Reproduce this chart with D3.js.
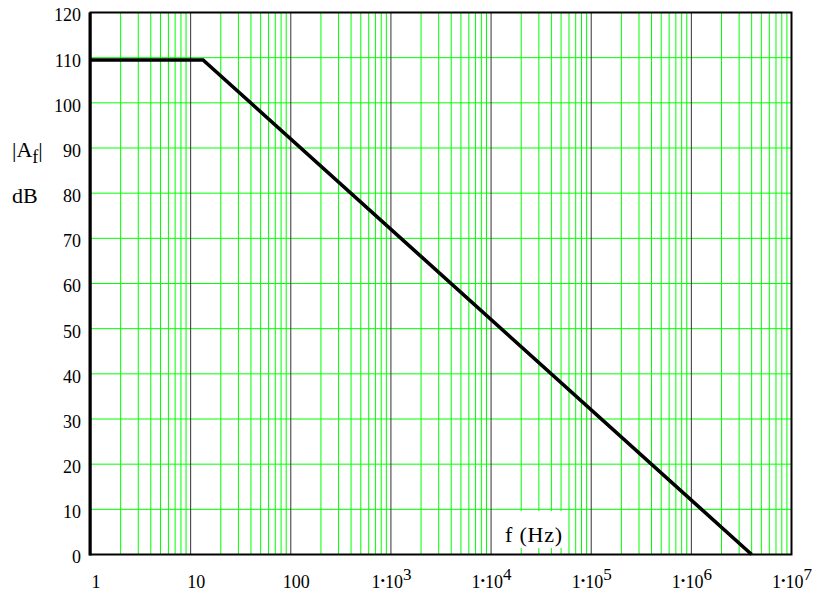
<!DOCTYPE html>
<html>
<head>
<meta charset="utf-8">
<script src="https://cdn.jsdelivr.net/npm/d3@7/dist/d3.min.js"></script>
<style>
  html, body { margin: 0; padding: 0; background: #fff; }
  svg { display: block; }
  svg text { font-family: "Liberation Serif", "Times New Roman", serif; fill: #000; }
</style>
</head>
<body>
<svg id="chart" width="830" height="592"></svg>
<script>
// Open-loop gain of the amplifier (asymptotic Bode magnitude)
const freqHz = [1, 13.3, 4.0e6];
const gainDb = [109.5, 109.5, 0];

// Axis ticks and labels
const freqTicks = [1, 10, 100, 1e3, 1e4, 1e5, 1e6, 1e7];
const freqTickLabels = ["1", "10", "100", "1•10^3", "1•10^4", "1•10^5", "1•10^6", "1•10^7"];
const gainTicks = [0, 10, 20, 30, 40, 50, 60, 70, 80, 90, 100, 110, 120];
const gainTickLabels = ["0", "10", "20", "30", "40", "50", "60", "70", "80", "90", "100", "110", "120"];
const minorMultipliers = [2, 3, 4, 5, 6, 7, 8, 9];

const svg = d3.select("#chart");

const plotLeft = 90.5, plotRight = 791.5, plotTop = 12.5, plotBottom = 554.5;

const x = d3.scaleLog().domain([1, 1e7]).range([plotLeft, plotRight]);
const y = d3.scaleLinear().domain([0, 120]).range([plotBottom, plotTop]);

const grid = svg.append("g");

// Minor vertical grid (2..9 in each decade)
const minorFreqs = [];
freqTicks.slice(0, -1).forEach(d => minorMultipliers.forEach(m => minorFreqs.push(d * m)));
grid.selectAll("line.minor").data(minorFreqs).join("line")
  .attr("class", "minor")
  .attr("x1", d => x(d)).attr("x2", d => x(d))
  .attr("y1", plotTop).attr("y2", plotBottom)
  .attr("stroke", "#00ff00").attr("stroke-width", 1);

// Horizontal grid every 10 dB
grid.selectAll("line.h").data(gainTicks.slice(1, -1)).join("line")
  .attr("class", "h")
  .attr("x1", plotLeft).attr("x2", plotRight)
  .attr("y1", d => y(d)).attr("y2", d => y(d))
  .attr("stroke", "#00ff00").attr("stroke-width", 1);

// Decade grid lines
grid.selectAll("line.decade").data(freqTicks.slice(1, -1)).join("line")
  .attr("class", "decade")
  .attr("x1", d => x(d)).attr("x2", d => x(d))
  .attr("y1", plotTop).attr("y2", plotBottom)
  .attr("stroke", "#333").attr("stroke-width", 1);

// Axis title on the frequency axis, with an opaque box behind it
svg.append("rect")
  .attr("x", 500).attr("y", 511).attr("width", 65).attr("height", 37)
  .attr("fill", "#fff");
svg.append("text")
  .attr("x", 505).attr("y", 541.5)
  .style("font-size", "22px")
  .attr("letter-spacing", 0.8)
  .text("f (Hz)");

// Gain curve
const line = d3.line().x((d, i) => x(freqHz[i])).y(d => y(d));
svg.append("path")
  .datum(gainDb)
  .attr("d", line)
  .attr("fill", "none")
  .attr("stroke", "#000")
  .attr("stroke-width", 3.6)
  .attr("stroke-linejoin", "miter");

// Frame
svg.append("rect")
  .attr("x", plotLeft).attr("y", plotTop)
  .attr("width", plotRight - plotLeft).attr("height", plotBottom - plotTop)
  .attr("fill", "none").attr("stroke", "#000").attr("stroke-width", 2);
svg.append("line")
  .attr("x1", plotLeft - 0.5).attr("x2", plotLeft - 0.5)
  .attr("y1", plotTop).attr("y2", plotBottom + 1)
  .attr("stroke", "#000").attr("stroke-width", 3);

// Gain axis labels
const yAxis = svg.append("g")
  .attr("transform", `translate(${plotLeft},0)`)
  .call(d3.axisLeft(y).tickValues(gainTicks).tickSize(0).tickPadding(9.5)
    .tickFormat((d, i) => gainTickLabels[i]));
yAxis.select(".domain").remove();
yAxis.selectAll("text").attr("dy", "0.47em").style("font-size", "18px");

// Frequency axis labels (with superscript exponents)
const xAxis = svg.append("g")
  .attr("transform", `translate(0,${plotBottom})`)
  .call(d3.axisBottom(x).tickValues(freqTicks).tickSize(0)
    .tickFormat((d, i) => freqTickLabels[i]));
xAxis.select(".domain").remove();
xAxis.selectAll("text").each(function(d, i) {
  const t = d3.select(this);
  const label = freqTickLabels[i];
  t.attr("y", 33.5).attr("dy", 0).style("font-size", "18px");
  if (label.includes("^")) {
    const [base, exp] = label.split("^");
    const [mant, ten] = base.split("•");
    t.text(null);
    t.append("tspan").text(mant);
    t.append("tspan").style("font-size", "13px").attr("dy", -3).text("•");
    t.append("tspan").attr("dy", 3).text(ten);
    t.append("tspan").style("font-size", "17px").attr("dy", -8).text(exp);
  } else {
    t.attr("dx", 5);
  }
});

// Gain axis title
const yTitle = svg.append("text")
  .attr("x", 12).attr("y", 157)
  .style("font-size", "22px");
yTitle.append("tspan").text("|A");
yTitle.append("tspan").style("font-size", "18px").attr("dy", 6).text("f");
yTitle.append("tspan").attr("dy", -6).text("|");

svg.append("text")
  .attr("x", 12).attr("y", 203)
  .style("font-size", "22px")
  .text("dB");
</script>
</body>
</html>
